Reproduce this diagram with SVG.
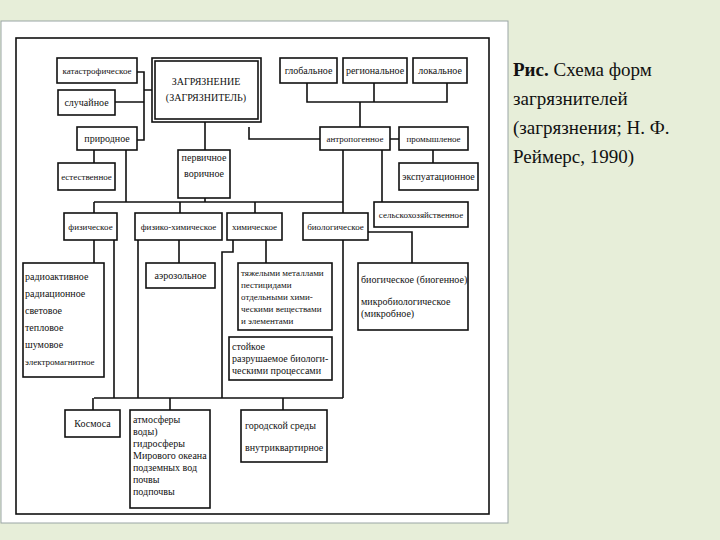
<svg xmlns="http://www.w3.org/2000/svg" width="720" height="540" viewBox="0 0 720 540">
<style>
.b{fill:#fff;stroke:#111;stroke-width:1.6}
.c{fill:none;stroke:#111;stroke-width:1.6}
text{font-family:"Liberation Serif",serif;font-size:10px;fill:#111}
.m{text-anchor:middle}
.s{font-size:9px}
.r{font-size:19px}
</style>
<rect width="720" height="540" fill="#e7eed9"/>
<rect x="1" y="21" width="507" height="502" fill="#fff" stroke="#9aa5a5"/>
<rect x="16" y="38" width="473" height="476" class="c"/>
<g id="connectors" class="c">
<path d="M137 72H144V140H137M115 102H144M144 90H152"/>
<path d="M94 150V163M126 150V202M205 122V150M205 198V202M94 202H343"/>
<path d="M94 202V213M180 202V213M255 202V213M343 150V213"/>
<path d="M249 127V139H320M390 139H399M433 150V163M382 150V202"/>
<path d="M307 83V102H447V83M374 83V102M360 102V127"/>
<path d="M94 240V263M114 240V398M138 240V398M179 240V263M233 240V252H222V398M266 240V263M343 240V398M368 232H412V263"/>
<path d="M94 398H343M93 398V410M170 398V410M283 398V410"/>
</g>
<g id="n-kat"><rect class="b" x="57" y="58" width="80" height="25"/><text class="m s" x="97" y="74">катастрофическое</text></g>
<g id="n-slu"><rect class="b" x="58" y="90" width="57" height="25"/><text class="m" x="86.5" y="106">случайное</text></g>
<g id="n-main"><rect class="b" x="152" y="58" width="109" height="64" stroke-width="2.5"/><rect class="c" x="155" y="61" width="103" height="58" stroke-width="1"/><text class="m" x="206" y="85" font-size="11">ЗАГРЯЗНЕНИЕ</text><text class="m" x="206" y="101" font-size="11">(ЗАГРЯЗНИТЕЛЬ)</text></g>
<g id="n-prir"><rect class="b" x="77" y="127" width="60" height="23"/><text class="m" x="107" y="142">природное</text></g>
<g id="n-est"><rect class="b" x="58" y="163" width="57" height="27"/><text class="m s" x="86.5" y="180">естественное</text></g>
<g id="n-perv"><rect class="b" x="178" y="150" width="52" height="48"/><text class="m" x="204" y="161">первичное</text><text class="m" x="204" y="177">воричное</text></g>
<g id="n-glob"><rect class="b" x="280" y="58" width="57" height="25"/><text class="m" x="308.5" y="74">глобальное</text></g>
<g id="n-reg"><rect class="b" x="343" y="58" width="64" height="25"/><text class="m" x="375" y="74">региональное</text></g>
<g id="n-lok"><rect class="b" x="413" y="58" width="54" height="25"/><text class="m" x="440" y="74">локальное</text></g>
<g id="n-antr"><rect class="b" x="320" y="127" width="70" height="23"/><text class="m s" x="355" y="142">антропогенное</text></g>
<g id="n-prom"><rect class="b" x="399" y="127" width="69" height="23"/><text class="m s" x="433.5" y="142">промышленое</text></g>
<g id="n-eksp"><rect class="b" x="399" y="163" width="79" height="27"/><text class="m" x="438.5" y="180">экспуатационное</text></g>
<g id="n-sel"><rect class="b" x="374" y="202" width="94" height="25"/><text class="m s" x="421" y="218">сельскохозяйственное</text></g>
<g id="n-fiz"><rect class="b" x="64" y="213" width="53" height="27"/><text class="m s" x="90.5" y="230">физическое</text></g>
<g id="n-fizh"><rect class="b" x="135" y="213" width="87" height="27"/><text class="m s" x="178.5" y="230">физико-химическое</text></g>
<g id="n-him"><rect class="b" x="227" y="213" width="55" height="27"/><text class="m s" x="254.5" y="230">химическое</text></g>
<g id="n-bio"><rect class="b" x="303" y="213" width="65" height="27"/><text class="m s" x="335.5" y="230">биологическое</text></g>
<g id="n-rad"><rect class="b" x="23" y="263" width="81" height="114"/><text x="25" y="280">радиоактивное</text><text x="25" y="297">радиационное</text><text x="25" y="314">световое</text><text x="25" y="331">тепловое</text><text x="25" y="348">шумовое</text><text x="25" y="365" class="s">электромагнитное</text></g>
<g id="n-aer"><rect class="b" x="146" y="263" width="69" height="25"/><text class="m" x="180.5" y="279">аэрозольное</text></g>
<g id="n-tyazh" class="s"><rect class="b" x="238" y="263" width="94" height="67"/><text class="s" x="241" y="276">тяжелыми металлами</text><text class="s" x="241" y="288">пестицидами</text><text class="s" x="241" y="300">отдельными хими-</text><text class="s" x="241" y="312">ческими веществами</text><text class="s" x="241" y="324">и элементами</text></g>
<g id="n-stoi"><rect class="b" x="229" y="337" width="103" height="43"/><text x="232" y="350">стойкое</text><text x="232" y="362">разрушаемое биологи-</text><text x="232" y="374">ческими процессами</text></g>
<g id="n-biog"><rect class="b" x="358" y="263" width="110" height="67"/><text x="361" y="283">биогическое (биогенное)</text><text x="361" y="305">микробиологическое</text><text x="361" y="317">(микробное)</text></g>
<g id="n-kos"><rect class="b" x="65" y="410" width="55" height="27"/><text class="m" x="92.5" y="427">Космоса</text></g>
<g id="n-atm"><rect class="b" x="130" y="410" width="80" height="98"/><text x="133" y="423">атмосферы</text><text x="133" y="435">воды)</text><text x="133" y="447">гидросферы</text><text x="133" y="459">Мирового океана</text><text x="133" y="471">подземных вод</text><text x="133" y="483">почвы</text><text x="133" y="495">подпочвы</text></g>
<g id="n-gor"><rect class="b" x="241" y="410" width="86" height="52"/><text x="245" y="429">городской среды</text><text x="245" y="451">внутриквартирное</text></g>
<text class="r" x="513" y="76"><tspan font-weight="bold">Рис.</tspan> Схема форм</text>
<text class="r" x="513" y="105">загрязнителей</text>
<text class="r" x="513" y="134">(загрязнения; Н. Ф.</text>
<text class="r" x="513" y="163">Реймерс, 1990)</text>
</svg>
